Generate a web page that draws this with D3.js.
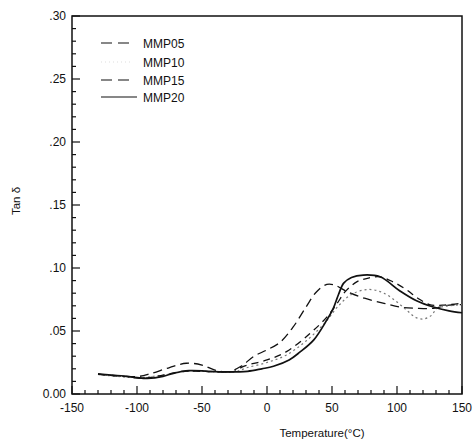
<!DOCTYPE html>
<html lang="en">
<head>
<meta charset="utf-8">
<title>Tan delta vs temperature</title>
<script src="https://cdn.jsdelivr.net/npm/d3@7"></script>
<style>
  body { margin: 0; background: #fff; }
  svg text { font-family: "Liberation Sans", Arial, sans-serif; fill: #111; }
</style>
</head>
<body>
<div id="chart"></div>
<script>
// data: [temperature (C), tan delta]
var mmp05 = [[-130,0.0158],[-115,0.0145],[-100,0.0138],[-90,0.016],[-75,0.021],[-62,0.0244],[-50,0.023],[-40,0.019],[-30,0.0175],[-20,0.022],[-10,0.030],[0,0.035],[10,0.041],[20,0.053],[30,0.069],[38,0.081],[46,0.087],[52,0.0865],[62,0.081],[75,0.076],[90,0.072],[102,0.069],[115,0.068],[128,0.068],[140,0.0705],[150,0.071]];
var mmp10 = [[-130,0.0155],[-100,0.013],[-80,0.015],[-60,0.018],[-40,0.0175],[-25,0.0175],[-15,0.021],[0,0.025],[15,0.031],[30,0.042],[45,0.057],[55,0.070],[65,0.079],[78,0.083],[90,0.080],[100,0.073],[108,0.066],[114,0.061],[120,0.0595],[126,0.062],[131,0.068],[140,0.070],[150,0.071]];
var mmp15 = [[-130,0.0155],[-110,0.014],[-95,0.0125],[-80,0.015],[-65,0.018],[-50,0.018],[-35,0.0175],[-25,0.018],[-18,0.022],[0,0.027],[15,0.0336],[33,0.048],[46,0.061],[54,0.072],[60,0.081],[69,0.089],[78,0.092],[87,0.093],[97,0.089],[107,0.083],[116,0.076],[125,0.071],[135,0.0705],[150,0.072]];
var mmp20 = [[-130,0.016],[-120,0.015],[-110,0.0143],[-100,0.013],[-92,0.0124],[-80,0.014],[-72,0.0164],[-60,0.0185],[-45,0.018],[-30,0.0175],[-15,0.018],[-4,0.020],[5,0.022],[17,0.027],[25,0.033],[36,0.043],[46,0.0587],[51,0.068],[55,0.079],[59,0.088],[65,0.0925],[74,0.0944],[87,0.093],[102,0.082],[115,0.074],[128,0.069],[140,0.066],[150,0.0645]];

var seriesNames = ["MMP05", "MMP10", "MMP15", "MMP20"];
var xTicks = [-150, -100, -50, 0, 50, 100, 150];
var yTicks = [0, 0.05, 0.10, 0.15, 0.20, 0.25, 0.30];
var yTickLabels = ["0.00", ".05", ".10", ".15", ".20", ".25", ".30"];

var w = 476, h = 446;
var plotL = 72, plotR = 462, plotT = 16, plotB = 394;

var svg = d3.select("#chart").append("svg")
  .attr("width", w).attr("height", h);

var x = d3.scaleLinear().domain([-150, 150]).range([plotL, plotR]);
var y = d3.scaleLinear().domain([0, 0.30]).range([plotB, plotT]);

// frame
svg.append("rect")
  .attr("x", plotL).attr("y", plotT)
  .attr("width", plotR - plotL).attr("height", plotB - plotT)
  .attr("fill", "none").attr("stroke", "#111").attr("stroke-width", 1.5);

// minor + major ticks, pointing inward
var xMinor = d3.range(-150, 151, 10);
svg.selectAll(".xminor").data(xMinor).enter().append("line")
  .attr("x1", d => x(d)).attr("x2", d => x(d))
  .attr("y1", plotB).attr("y2", d => plotB - (xTicks.indexOf(d) >= 0 ? 8 : 4))
  .attr("stroke", "#111").attr("stroke-width", 1.2);

var yMinor = d3.range(0, 31).map(d => d / 100);
svg.selectAll(".yminor").data(yMinor).enter().append("line")
  .attr("y1", d => y(d)).attr("y2", d => y(d))
  .attr("x1", plotL).attr("x2", (d, i) => plotL + (i % 5 === 0 ? 8 : 4))
  .attr("stroke", "#111").attr("stroke-width", 1.2);

svg.selectAll(".xlab").data(xTicks).enter().append("text")
  .attr("x", d => x(d)).attr("y", plotB + 18)
  .attr("text-anchor", "middle").attr("font-size", 12)
  .text(d => d);

svg.selectAll(".ylab").data(yTicks).enter().append("text")
  .attr("x", plotL - 6).attr("y", d => y(d) + 4)
  .attr("text-anchor", "end").attr("font-size", 12)
  .text((d, i) => yTickLabels[i]);

svg.append("text")
  .attr("x", 322).attr("y", 437)
  .attr("text-anchor", "middle").attr("font-size", 11.5)
  .text("Temperature(\u00B0C)");

svg.append("text")
  .attr("transform", "translate(20,201) rotate(-90)")
  .attr("text-anchor", "middle").attr("font-size", 11.5)
  .text("Tan \u03B4");

// curves
var styles = [
  {data: mmp05, dash: "9,5", color: "#111", width: 1.3},
  {data: mmp10, dash: "2,3", color: "#777", width: 1.2},
  {data: mmp15, dash: "7,5", color: "#111", width: 1.3},
  {data: mmp20, dash: null, color: "#111", width: 1.7}
];

var line = d3.line()
  .x(d => x(d[0])).y(d => y(d[1]))
  .curve(d3.curveCatmullRom.alpha(0.5));

styles.forEach(function(s) {
  svg.append("path")
    .attr("d", line(s.data))
    .attr("fill", "none")
    .attr("stroke", s.color)
    .attr("stroke-width", s.width)
    .attr("stroke-dasharray", s.dash);
});

// legend
var legendRows = [43, 62, 80, 97];
seriesNames.forEach(function(name, i) {
  var s = styles[i];
  svg.append("line")
    .attr("x1", 101).attr("x2", i === 3 ? 137 : 130)
    .attr("y1", legendRows[i]).attr("y2", legendRows[i])
    .attr("stroke", i === 1 ? "#ddd" : s.color)
    .attr("stroke-width", i === 1 ? 1 : 1.2)
    .attr("stroke-dasharray", i === 3 ? null : (i === 1 ? "1,3" : "11,6"));
  svg.append("text")
    .attr("x", 143).attr("y", legendRows[i] + 4.5)
    .attr("font-size", 12)
    .text(name);
});
</script>
</body>
</html>
